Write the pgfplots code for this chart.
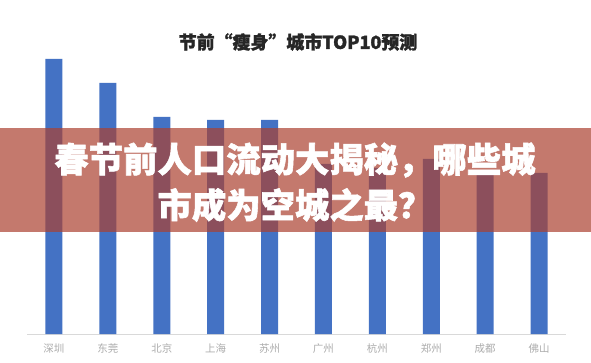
\documentclass[border=0pt]{standalone}
\usepackage{fontspec}
\usepackage{pgfplots}
\pgfplotsset{compat=1.18}
\newfontfamily\cjk{Noto Sans CJK SC}
\newfontfamily\cjkheavy{Noto Sans CJK SC}[BoldFeatures={FakeBold=1.6}]
\definecolor{barblue}{HTML}{4472C4}
\definecolor{banner}{RGB}{171,65,48}
\begin{document}
\begin{tikzpicture}[x=1bp,y=1bp]
\useasboundingbox (0,0) rectangle (591,362);
\fill[white] (0,0) rectangle (591,362);
\begin{axis}[
  at={(27bp,28bp)}, anchor=south west,
  width=539bp, height=284bp, scale only axis,
  xmin=-0.5, xmax=9.5, ymin=0, ymax=284,
  axis x line*=bottom, axis y line=none,
  x axis line style={-, draw=gray!30, line width=0.8pt},
  xtick={0,...,9},
  xticklabels={深圳,东莞,北京,上海,苏州,广州,杭州,郑州,成都,佛山},
  xtick style={draw=none},
  ytick=\empty,
  ticklabel style={font=\cjk\fontsize{10.5}{12}\selectfont, text=gray!65},
  xticklabel style={yshift=-6bp},
  clip=false,
]
\addplot[ybar, bar width=17bp, fill=barblue, draw=none] coordinates {
  (0,275) (1,251) (2,217) (3,214) (4,214) (5,170) (6,166) (7,175) (8,161) (9,161)
};
\end{axis}
\node[font=\cjkheavy\bfseries\fontsize{18}{20}\selectfont, text=black!85] at (298,320) {节前“瘦身”城市TOP10预测};
\fill[banner, opacity=0.7] (0,130) rectangle (591,234);
\node[font=\cjkheavy\bfseries\fontsize{34.5}{36}\selectfont, text=white] at (295,202) {春节前人口流动大揭秘，哪些城};
\node[font=\cjkheavy\bfseries\fontsize{34.5}{36}\selectfont, text=white] at (295,157) {市成为空城之最？};
\end{tikzpicture}
\end{document}
